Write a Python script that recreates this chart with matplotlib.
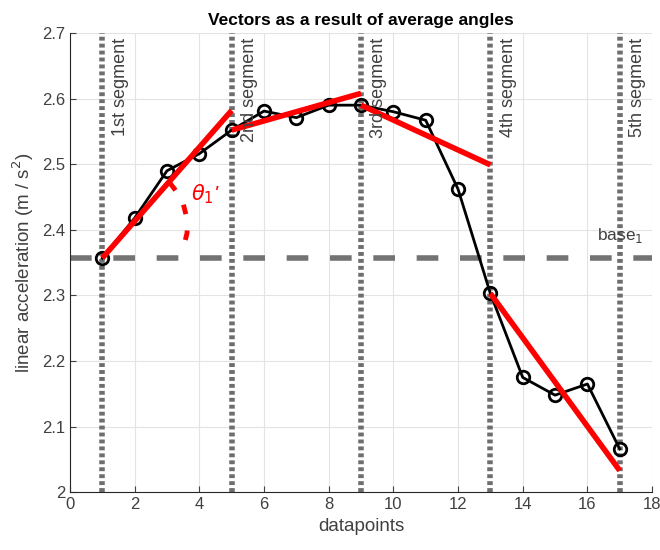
import numpy as np
import matplotlib.pyplot as plt

plt.rcParams["font.family"] = ["Liberation Sans", "DejaVu Sans"]

# measured signal
datapoints = [1, 2, 3, 4, 5, 6, 7, 8, 9, 10, 11, 12, 13, 14, 15, 16, 17]
accel = [2.357, 2.418, 2.490, 2.516, 2.552, 2.581, 2.571, 2.590, 2.590,
         2.580, 2.567, 2.462, 2.303, 2.175, 2.148, 2.165, 2.066]

# average-angle vectors (start x, end x, start y, end y)
vec_x0 = [1, 5, 9, 13]
vec_x1 = [5, 9, 13, 17]
vec_y0 = [2.357, 2.552, 2.590, 2.303]
vec_y1 = [2.582, 2.608, 2.499, 2.033]

segment_x = [1, 5, 9, 13, 17]
segment_labels = ["1st segment", "2nd segment", "3rd segment",
                  "4th segment", "5th segment"]
base_value = 2.357

# angle marker arc
arc_x = [3.08, 3.30, 3.50, 3.63, 3.62, 3.52, 3.40]
arc_y = [2.472, 2.458, 2.440, 2.415, 2.395, 2.375, 2.362]

txt = "#404040"

fig = plt.figure(figsize=(6.6, 5.5), dpi=100)
ax = fig.add_axes([0.106, 0.105, 0.882, 0.835])

ax.grid(True, color="#e3e3e3", linewidth=0.8)
ax.set_axisbelow(True)

ax.axhline(base_value, color="#737373", linewidth=4, dashes=(3.9, 3.9), zorder=2)
for sx in segment_x:
    ax.axvline(sx, color="#6e6e6e", linewidth=4, linestyle=(0, (0.7, 0.55)), zorder=2)

ax.plot(datapoints, accel, color="black", linewidth=2, marker="o",
        markersize=9, markerfacecolor="none", markeredgewidth=2, zorder=4)

for x0, x1, y0, y1 in zip(vec_x0, vec_x1, vec_y0, vec_y1):
    ax.plot([x0, x1], [y0, y1], color="red", linewidth=4, zorder=5,
            solid_capstyle="butt")

ax.plot(arc_x, arc_y, color="red", linewidth=3.5, linestyle=(0, (2.0, 3.4)), zorder=5)
ax.text(3.75, 2.455, r"$\theta_1$'", color="red", fontsize=15, fontstyle="italic",
        ha="left", va="center", zorder=6)

for sx, lab in zip(segment_x, segment_labels):
    ax.text(sx + 0.55, 2.692, lab, rotation=90, ha="center", va="top",
            fontsize=13, color=txt, zorder=6)

ax.text(17.0, 2.384, "base$_1$", ha="center", va="baseline", fontsize=12.5,
        color=txt, zorder=6)

ax.set_xlim(0, 18)
ax.set_ylim(2.0, 2.7)
ax.set_xticks(np.arange(0, 19, 2))
ax.set_yticks(np.arange(2.0, 2.71, 0.1))
ax.set_yticklabels(["2", "2.1", "2.2", "2.3", "2.4", "2.5", "2.6", "2.7"])
ax.tick_params(labelsize=12, colors=txt, direction="in", length=4)
for side in ["top", "right"]:
    ax.spines[side].set_visible(False)
for side in ["left", "bottom"]:
    ax.spines[side].set_color("#262626")

ax.set_xlabel("datapoints", fontsize=13.5, color=txt)
ax.set_ylabel("linear acceleration (m / s$^2$)", fontsize=13.5, color=txt)
ax.set_title("Vectors as a result of average angles", fontsize=12.5,
             fontweight="bold", pad=6)

fig.savefig("out.png", dpi=100)
